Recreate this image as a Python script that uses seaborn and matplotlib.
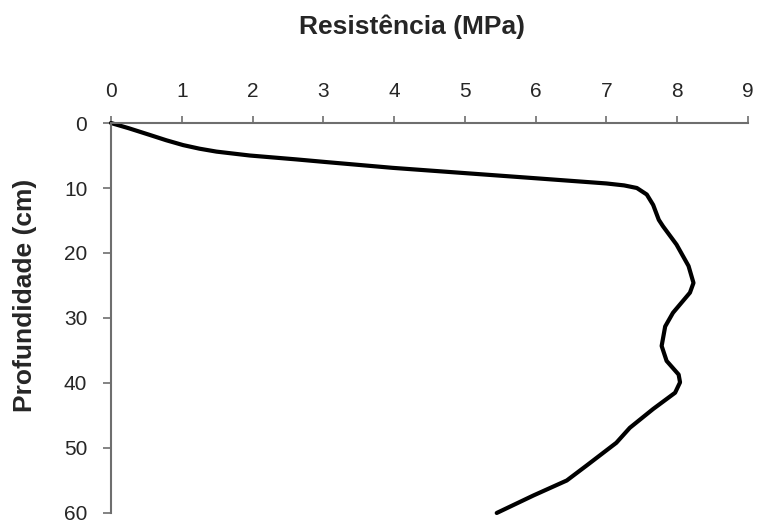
import pandas as pd
import seaborn as sns
import matplotlib.pyplot as plt

# valores (resistência em MPa, profundidade em cm)
resistencia = [0.0, 0.25, 0.55, 0.78, 1.02, 1.25, 1.49, 1.96, 2.62, 3.03, 3.98, 4.99,
               6.0, 7.0, 7.25, 7.43, 7.57, 7.66, 7.74, 7.8, 7.99, 8.16, 8.23, 8.18,
               7.94, 7.83, 7.78, 7.85, 8.02, 8.04, 7.97, 7.66, 7.33, 7.14, 6.72, 6.44,
               5.97, 5.45]
profundidade = [0.0, 0.8, 1.84, 2.65, 3.4, 3.95, 4.4, 5.0, 5.6, 6.0, 6.9, 7.7,
                8.5, 9.3, 9.6, 10.0, 11.0, 12.6, 14.9, 15.9, 18.7, 22.0, 24.6, 26.1,
                29.2, 31.3, 34.3, 36.6, 38.7, 39.9, 41.5, 44.0, 46.9, 49.2, 52.7, 55.0,
                57.3, 60.0]
x_ticks = list(range(0, 10))
y_ticks = list(range(0, 61, 10))

sns.set_style('white')
plt.rcParams['font.family'] = ['Liberation Sans', 'DejaVu Sans']

df = pd.DataFrame({'resistencia': resistencia, 'profundidade': profundidade})

fig = plt.figure(figsize=(7.58, 5.25), dpi=100)
ax = fig.add_axes([0.1464, 0.0229, 0.8404, 0.7428])

sns.lineplot(data=df, x='resistencia', y='profundidade', sort=False, estimator=None,
             color='black', lw=3, ax=ax, solid_joinstyle='round',
             solid_capstyle='round', clip_on=False)

ax.set_xlim(0, 9)
ax.set_ylim(60, 0)
ax.xaxis.tick_top()
ax.set_xticks(x_ticks)
ax.set_yticks(y_ticks)
ax.set_xlabel('')
ax.set_ylabel('')

cor_eixo = '#6e6e6e'
ax.tick_params(axis='x', direction='out', length=5, width=1.2, color=cor_eixo,
               pad=11, labelsize=15, top=True, bottom=False)
ax.tick_params(axis='y', direction='out', length=6, width=1.2, color=cor_eixo,
               pad=11, labelsize=15, left=True)

for s in ['right', 'bottom']:
    ax.spines[s].set_visible(False)
for s in ['left', 'top']:
    ax.spines[s].set_color(cor_eixo)
    ax.spines[s].set_linewidth(1.5)

fig.text(0.543, 0.9486, 'Resistência (MPa)', ha='center', va='center',
         fontsize=19, fontweight='bold')
fig.text(0.033, 0.438, 'Profundidade (cm)', ha='center', va='center',
         rotation=90, fontsize=19, fontweight='bold')

fig.savefig('out.png', dpi=100)
